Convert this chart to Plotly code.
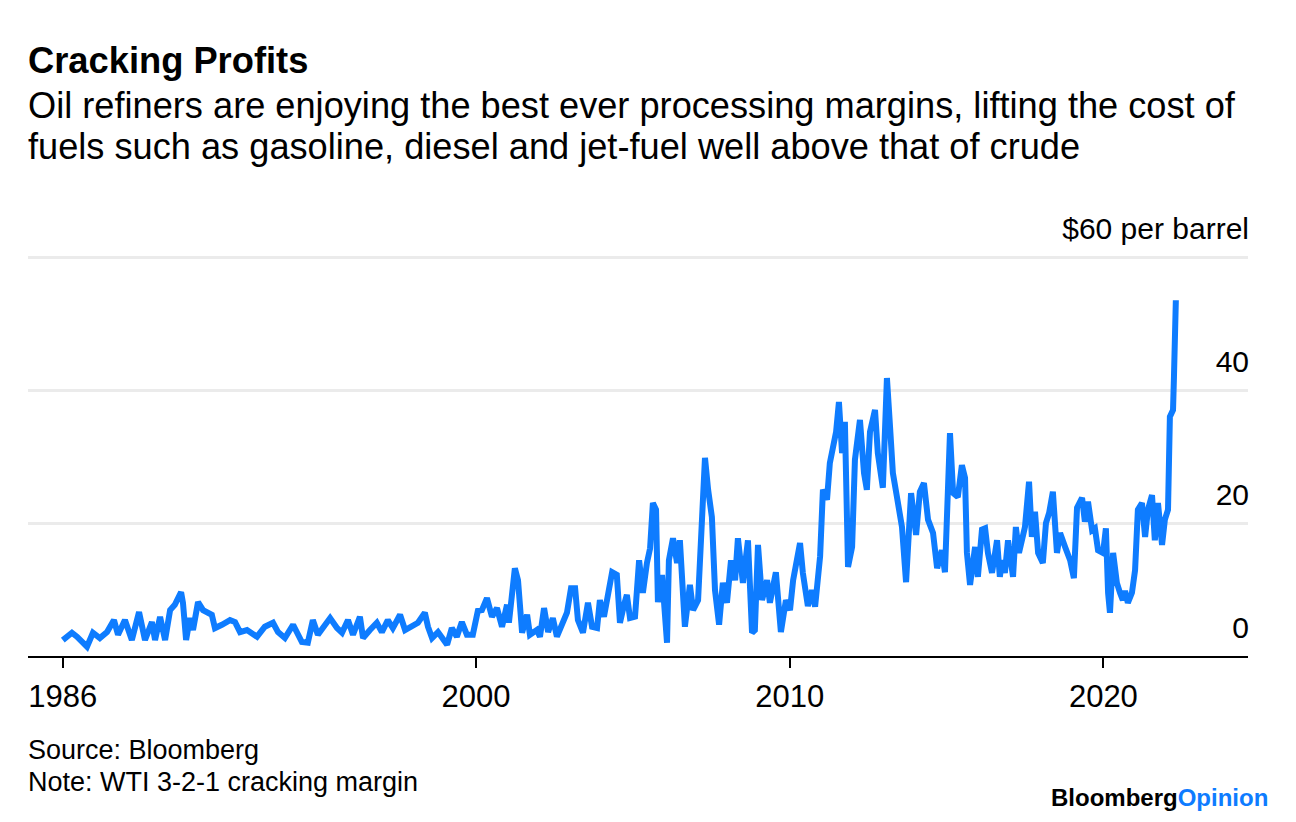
import plotly.graph_objects as go

# ---- data ----
years = [
    1986.83, 1987.12, 1987.28, 1987.60, 1987.79, 1988.01, 1988.24, 1988.46, 1988.59, 1988.81,
    1989.03, 1989.26, 1989.45, 1989.67, 1989.77, 1989.93, 1990.09, 1990.25, 1990.40, 1990.60,
    1990.66, 1990.76, 1990.88, 1990.98, 1991.14, 1991.30, 1991.58, 1991.68, 1991.90, 1992.16,
    1992.32, 1992.48, 1992.70, 1992.89, 1993.02, 1993.27, 1993.53, 1993.69, 1993.91, 1994.17,
    1994.45, 1994.64, 1994.80, 1994.96, 1995.12, 1995.35, 1995.57, 1995.73, 1995.92, 1996.08,
    1996.30, 1996.40, 1996.62, 1996.84, 1997.00, 1997.19, 1997.35, 1997.58, 1997.74, 1997.99,
    1998.15, 1998.37, 1998.47, 1998.60, 1998.79, 1999.08, 1999.23, 1999.39, 1999.55, 1999.71,
    1999.90, 2000.06, 2000.19, 2000.35, 2000.51, 2000.67, 2000.83, 2000.99, 2001.05, 2001.24,
    2001.34, 2001.47, 2001.63, 2001.72, 2001.94, 2002.04, 2002.17, 2002.30, 2002.45, 2002.58,
    2002.74, 2002.90, 2003.03, 2003.16, 2003.25, 2003.41, 2003.57, 2003.70, 2003.86, 2003.95,
    2004.08, 2004.18, 2004.34, 2004.49, 2004.59, 2004.72, 2004.81, 2004.91, 2005.07, 2005.20,
    2005.32, 2005.45, 2005.55, 2005.64, 2005.74, 2005.80, 2005.93, 2006.09, 2006.15, 2006.28,
    2006.41, 2006.50, 2006.66, 2006.82, 2006.92, 2007.08, 2007.20, 2007.30, 2007.40, 2007.52,
    2007.62, 2007.75, 2007.87, 2008.00, 2008.13, 2008.26, 2008.35, 2008.51, 2008.67, 2008.80,
    2008.89, 2008.99, 2009.12, 2009.28, 2009.37, 2009.56, 2009.72, 2009.88, 2010.01, 2010.11,
    2010.33, 2010.42, 2010.58, 2010.71, 2010.81, 2010.90, 2010.97, 2011.06, 2011.19, 2011.28,
    2011.38, 2011.48, 2011.57, 2011.67, 2011.76, 2011.86, 2011.99, 2012.08, 2012.24, 2012.37,
    2012.46, 2012.56, 2012.72, 2012.81, 2012.97, 2013.10, 2013.20, 2013.29, 2013.42, 2013.58,
    2013.71, 2013.87, 2014.03, 2014.15, 2014.28, 2014.41, 2014.57, 2014.70, 2014.85, 2014.95,
    2015.11, 2015.21, 2015.36, 2015.49, 2015.59, 2015.65, 2015.75, 2015.91, 2016.00, 2016.13,
    2016.23, 2016.32, 2016.45, 2016.61, 2016.70, 2016.77, 2016.86, 2016.96, 2017.12, 2017.21,
    2017.31, 2017.50, 2017.63, 2017.72, 2017.82, 2017.92, 2018.07, 2018.17, 2018.27, 2018.39,
    2018.52, 2018.62, 2018.78, 2018.94, 2019.06, 2019.16, 2019.32, 2019.41, 2019.51, 2019.64,
    2019.73, 2019.83, 2019.99, 2020.08, 2020.15, 2020.21, 2020.31, 2020.43, 2020.53, 2020.62,
    2020.69, 2020.78, 2020.91, 2021.01, 2021.10, 2021.23, 2021.33, 2021.42, 2021.55, 2021.64,
    2021.74, 2021.87, 2021.96, 2022.06, 2022.12, 2022.22, 2022.25, 2022.31,
]
margin_usd = [
    2.4, 3.5, 2.9, 1.4, 3.5, 2.7, 3.6, 5.4, 3.2, 5.4,
    2.4, 6.6, 2.4, 5.1, 2.4, 5.9, 2.4, 6.9, 7.7, 9.6,
    8.0, 2.4, 5.7, 3.9, 8.1, 6.9, 6.2, 4.2, 4.7, 5.4,
    5.1, 3.6, 3.9, 3.2, 2.9, 4.4, 5.0, 3.6, 2.7, 4.7,
    2.1, 2.0, 5.4, 3.2, 4.2, 5.7, 4.2, 3.5, 5.4, 3.2,
    5.9, 2.7, 3.9, 5.0, 3.6, 5.4, 4.2, 6.2, 3.9, 4.7,
    5.0, 6.5, 4.4, 2.7, 3.6, 1.7, 4.2, 2.9, 5.1, 3.2,
    3.2, 6.8, 6.9, 8.7, 5.9, 7.2, 4.4, 7.7, 5.0, 13.2,
    11.4, 3.5, 6.2, 3.2, 3.9, 2.9, 7.2, 3.6, 5.7, 2.9,
    5.0, 6.5, 10.2, 10.2, 5.4, 3.5, 8.0, 4.4, 4.2, 8.4,
    5.9, 8.4, 12.6, 12.2, 5.0, 7.7, 9.2, 5.7, 5.9, 14.4,
    9.5, 14.0, 16.2, 23.0, 22.0, 8.1, 12.2, 2.0, 14.4, 17.7,
    14.0, 17.4, 4.4, 10.7, 6.9, 8.4, 19.4, 29.8, 25.0, 20.9,
    9.9, 4.7, 11.0, 8.0, 14.4, 11.4, 17.7, 11.0, 17.4, 3.5,
    3.9, 16.7, 8.4, 11.4, 8.0, 12.6, 3.6, 8.4, 6.9, 11.4,
    17.0, 12.5, 7.5, 9.9, 7.4, 11.9, 15.0, 25.0, 23.5, 29.0,
    31.0, 33.7, 38.2, 30.5, 35.2, 13.4, 16.4, 29.5, 35.5, 27.5,
    25.0, 33.7, 37.0, 30.5, 25.3, 41.8, 34.4, 27.5, 23.9, 19.4,
    11.1, 24.5, 18.2, 24.7, 26.0, 20.5, 18.5, 13.2, 15.9, 12.6,
    33.5, 24.5, 23.9, 28.7, 26.8, 15.5, 10.7, 16.4, 11.9, 19.0,
    19.2, 15.5, 12.5, 17.4, 11.9, 14.4, 12.5, 17.4, 11.9, 19.4,
    15.5, 19.4, 26.2, 17.9, 21.7, 15.5, 14.0, 20.0, 21.5, 24.7,
    15.5, 18.5, 16.4, 14.4, 11.7, 22.3, 23.8, 20.2, 23.2, 18.9,
    19.2, 15.9, 15.5, 19.2, 9.5, 6.5, 15.5, 11.0, 9.5, 8.4,
    9.8, 8.0, 9.5, 12.9, 22.0, 23.0, 17.9, 22.0, 24.2, 17.4,
    23.0, 16.7, 20.5, 22.0, 36.0, 37.0, 42.0, 53.5,
]

x_tick_vals = [1986.83, 2000, 2010, 2020]
x_tick_text = ["1986", "2000", "2010", "2020"]
y_tick_vals = [0, 20, 40, 60]
y_tick_text = ["0", "20", "40", "$60 per barrel"]

title = "Cracking Profits"
subtitle_lines = [
    "Oil refiners are enjoying the best ever processing margins, lifting the cost of",
    "fuels such as gasoline, diesel and jet-fuel well above that of crude",
]
source_lines = ["Source: Bloomberg", "Note: WTI 3-2-1 cracking margin"]

BLUE = "#0E7CFF"
FONT = "Liberation Sans"

fig = go.Figure()
fig.add_trace(go.Scatter(
    x=years, y=margin_usd, mode="lines",
    line=dict(color=BLUE, width=6, shape="linear"),
    hoverinfo="skip", showlegend=False, cliponaxis=False,
))

# page body adds an 8px margin: lay out in figure pixels = reference pixels - 8
OFF = 8
W, H = 1296 - 2 * OFF, 822 - 2 * OFF
Y_TOP = 60.3
L = 28 - OFF
R = W - (1248 - OFF)
B = H - (656 - OFF)
T = (257 - OFF) - round((Y_TOP - 60) * 6.65)
plot_h = H - T - B
plot_w = W - L - R


def py(ref_pix):
    """reference pixel row -> paper y"""
    return (H - B - (ref_pix - OFF)) / plot_h


def px(ref_pix):
    return (ref_pix - OFF - L) / plot_w


fig.update_layout(
    width=W, height=H,
    margin=dict(l=L, r=R, t=T, b=B, pad=0),
    paper_bgcolor="white", plot_bgcolor="white",
    font=dict(family=FONT, color="black"),
    xaxis=dict(
        range=[1985.72, 2024.61], tickvals=x_tick_vals, ticktext=x_tick_text,
        showgrid=False, zeroline=False, showline=True, linecolor="black", linewidth=2,
        ticks="outside", ticklen=10, tickwidth=2, tickcolor="black",
        tickfont=dict(size=31, family=FONT, color="black"), ticklabelstandoff=2,
    ),
    yaxis=dict(
        range=[0, Y_TOP], tickvals=y_tick_vals, ticktext=y_tick_text, side="right",
        ticklabelposition="inside top", ticklabeloverflow="allow",
        showgrid=True, gridcolor="#ebebeb", gridwidth=2.5,
        zeroline=False, showline=False, ticks="",
        ticklabelshift=-8, ticklabelstandoff=-4,
        tickfont=dict(size=30, family=FONT, color="black"),
    ),
)

ann = []
ann.append(dict(text="<b>" + title + "</b>", x=0, xshift=-2, y=py(61), xref="paper", yref="paper",
                xanchor="left", yanchor="middle", showarrow=False,
                font=dict(size=36.3, family=FONT, color="black")))
for i, line in enumerate(subtitle_lines):
    ann.append(dict(text=line, x=0, xshift=-2, y=py(105 + 42 * i), xref="paper", yref="paper",
                    xanchor="left", yanchor="middle", showarrow=False,
                    font=dict(size=36.2, family=FONT, color="black")))
for i, line in enumerate(source_lines):
    ann.append(dict(text=line, x=0, xshift=-2, y=py(750 + 32 * i), xref="paper", yref="paper",
                    xanchor="left", yanchor="middle", showarrow=False,
                    font=dict(size=27, family=FONT, color="black")))
ann.append(dict(text="<b>Bloomberg<span style='color:%s'>Opinion</span></b>" % BLUE,
                x=px(1268), xshift=2, y=py(797), xref="paper", yref="paper",
                xanchor="right", yanchor="middle", showarrow=False,
                font=dict(size=24, family=FONT, color="black")))
fig.update_layout(annotations=ann)

fig.write_html("out.html")
